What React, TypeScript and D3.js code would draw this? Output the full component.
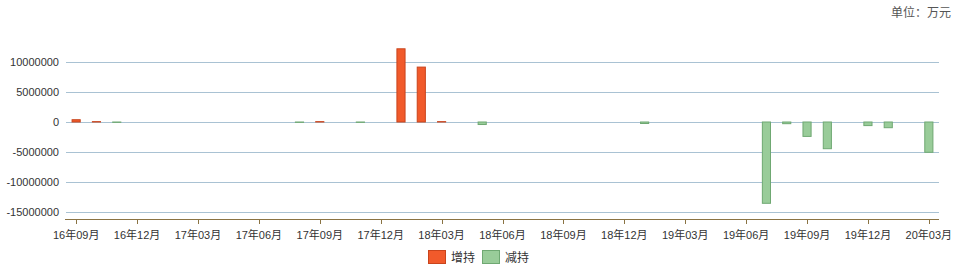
import React from "react";
import * as d3 from "d3";

// 月份类别（横轴）
const months = [
  "16年09月", "16年10月", "16年11月", "16年12月",
  "17年01月", "17年02月", "17年03月", "17年04月", "17年05月", "17年06月",
  "17年07月", "17年08月", "17年09月", "17年10月", "17年11月", "17年12月",
  "18年01月", "18年02月", "18年03月", "18年04月", "18年05月", "18年06月",
  "18年07月", "18年08月", "18年09月", "18年10月", "18年11月", "18年12月",
  "19年01月", "19年02月", "19年03月", "19年04月", "19年05月", "19年06月",
  "19年07月", "19年08月", "19年09月", "19年10月", "19年11月", "19年12月",
  "20年01月", "20年02月", "20年03月",
];

// 增持金额（万元），与 months 一一对应
const increase = [
  380000, 60000, 0, 0,
  0, 0, 0, 0, 0, 0,
  0, 0, 60000, 0, 0, 0,
  12200000, 9150000, 60000, 0, 0, 0,
  0, 0, 0, 0, 0, 0,
  0, 0, 0, 0, 0, 0,
  0, 0, 0, 0, 0, 0,
  0, 0, 0,
];

// 减持金额（万元），与 months 一一对应
const decrease = [
  0, 0, -60000, 0,
  0, 0, 0, 0, 0, 0,
  0, -60000, 0, 0, -60000, 0,
  0, 0, 0, 0, -420000, 0,
  0, 0, 0, 0, 0, 0,
  -250000, 0, 0, 0, 0, 0,
  -13550000, -280000, -2400000, -4450000, 0, -600000,
  -950000, 0, -5050000,
];

const yTicks = [10000000, 5000000, 0, -5000000, -10000000, -15000000];
const xTickLabels = [
  "16年09月", "16年12月", "17年03月", "17年06月", "17年09月", "17年12月",
  "18年03月", "18年06月", "18年09月", "18年12月", "19年03月", "19年06月",
  "19年09月", "19年12月", "20年03月",
];

const seriesNames = ["增持", "减持"];

const W = 959;
const H = 278;
const left = 66;
const right = 939;
const top = 40;
const bottom = 219;

const colors = {
  incFill: "#f15a2b",
  incStroke: "#c9441c",
  decFill: "#99cc99",
  decStroke: "#6fa872",
  grid: "#a9c2d3",
  axis: "#8a7343",
  text: "#333333",
};

export default function App() {
  const pad = 0.55;
  const x = d3
    .scaleBand<string>()
    .domain(months)
    .range([left, right])
    .paddingInner(pad)
    .paddingOuter(pad / 2);

  const y = d3
    .scaleLinear()
    .domain([-16166667, 13666667])
    .range([bottom, top]);

  const bw = x.bandwidth();
  const center = (m: string) => (x(m) as number) + bw / 2;
  const font = "Tahoma, 'Liberation Sans', 'Noto Sans CJK SC', sans-serif";

  const bars = (vals: number[], fill: string, stroke: string, key: string) =>
    vals.map((v, i) => {
      if (v === 0) return null;
      const y0 = y(0);
      const y1 = y(v);
      const yTop = Math.min(y0, y1);
      const h = Math.abs(y1 - y0);
      return (
        <rect
          key={key + i}
          x={(x(months[i]) as number) + 0.5}
          y={yTop}
          width={bw - 1}
          height={Math.max(h, 0.3)}
          fill={fill}
          stroke={stroke}
          strokeWidth={1}
        />
      );
    });

  return (
    <svg
      width={W}
      height={H}
      style={{ position: "absolute", left: 0, top: 0, background: "#fff" }}
      fontFamily={font}
    >
      <text
        x={951}
        y={17}
        textAnchor="end"
        fontSize={12}
        fill="#555"
        fontFamily="'Noto Sans CJK SC', sans-serif"
      >
        单位：万元
      </text>

      {/* 网格线与纵轴刻度 */}
      {yTicks.map((t) => (
        <g key={t}>
          <line
            x1={left}
            x2={right}
            y1={Math.round(y(t)) + 0.5}
            y2={Math.round(y(t)) + 0.5}
            stroke={colors.grid}
            strokeWidth={1}
          />
          <text
            x={59}
            y={y(t)}
            dy="0.35em"
            textAnchor="end"
            fontSize={11}
            fill={colors.text}
          >
            {t}
          </text>
        </g>
      ))}

      {bars(increase, colors.incFill, colors.incStroke, "inc")}
      {bars(decrease, colors.decFill, colors.decStroke, "dec")}

      {/* 横轴 */}
      <line
        x1={left - 1}
        x2={right}
        y1={bottom + 0.5}
        y2={bottom + 0.5}
        stroke={colors.axis}
        strokeWidth={1}
      />
      {xTickLabels.map((m) => {
        const cx = Math.round(center(m)) + 0.5;
        return (
          <g key={m}>
            <line
              x1={cx}
              x2={cx}
              y1={bottom}
              y2={bottom + 5}
              stroke={colors.axis}
              strokeWidth={1}
            />
            <text
              x={center(m)}
              y={239}
              textAnchor="middle"
              fontSize={11}
              fill={colors.text}
            >
              {m}
            </text>
          </g>
        );
      })}

      {/* 图例 */}
      <g>
        <rect x={428.5} y={250.5} width={17} height={13} fill={colors.incFill} stroke={colors.incStroke} />
        <text x={451} y={261.5} fontSize={12} fill={colors.text}>
          {seriesNames[0]}
        </text>
        <rect x={482.5} y={250.5} width={17} height={13} fill={colors.decFill} stroke={colors.decStroke} />
        <text x={505} y={261.5} fontSize={12} fill={colors.text}>
          {seriesNames[1]}
        </text>
      </g>
    </svg>
  );
}
